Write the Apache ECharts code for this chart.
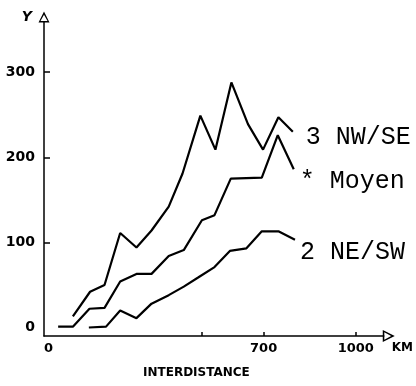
<!DOCTYPE html>
<html><head><meta charset="utf-8">
<script src="https://cdn.jsdelivr.net/npm/echarts@6/dist/echarts.min.js"></script>
<style>html,body{margin:0;padding:0;background:#fff}#c{width:416px;height:386px}</style>
</head><body><div id="c"></div>
<script>
const seriesNames = ['3 NW/SE', '* Moyen', '2 NE/SW'];
const nwseKm  = [79, 135, 182, 233, 286, 335, 391, 436, 494, 543, 595, 649, 698, 748, 795];
const nwseVal = [13, 42, 50, 111, 94, 114, 142, 181, 249, 209, 288, 239, 209, 247, 230];
const moyenKm  = [31, 79, 133, 182, 233, 286, 335, 391, 440, 499, 540, 593, 694, 746, 798];
const moyenVal = [1, 1, 22, 23, 54, 63, 63, 84, 91, 126, 132, 175, 176, 226, 186];
const neswKm  = [131, 187, 233, 286, 335, 391, 440, 488, 540, 590, 644, 694, 748, 802];
const neswVal = [0, 1, 20, 11, 28, 38, 48, 59, 71, 90, 93, 113, 113, 103];
const xLabelValues = [0, 700, 1000];
const xTickValues = [500, 700, 1000];
const yLabelValues = [0, 100, 200, 300];
const yTickValues = [100, 200, 300];
const xName = 'KM', yName = 'Y', xTitle = 'INTERDISTANCE';

const pair = (xs, ys) => xs.map((x, i) => [x, ys[i]]);
const arrow = 'path://M5,0L10,10L0,10Z M5,3L1.8,8.7L8.2,8.7Z';
const labelFont = { fontFamily: 'DejaVu Sans', fontWeight: 'bold', fontSize: 13, color: '#000' };
const endFont = { fontFamily: 'Liberation Mono', fontSize: 25, color: '#000' };

const chart = echarts.init(document.getElementById('c'), null, { renderer: 'canvas' });
const mk = (name, data, off) => ({
  type: 'line', name, data, symbol: 'none', silent: true,
  lineStyle: { color: '#000', width: 2.2 },
  endLabel: Object.assign({ show: true, formatter: name, distance: 0, offset: off }, endFont)
});
chart.setOption({
  animation: false,
  backgroundColor: '#fff',
  title: { text: xTitle, left: 138, top: 362, textStyle: { fontFamily: 'DejaVu Sans', fontWeight: 'bold', fontSize: 12, color: '#000' } },
  grid: { left: 44, right: 29, top: 22, bottom: 50, containLabel: false },
  xAxis: {
    type: 'value', min: -15, max: 1091,
    name: xName, nameLocation: 'end', nameGap: 8,
    nameTextStyle: Object.assign({ align: 'left', verticalAlign: 'top', padding: [6, 0, 0, 0] }, labelFont, { fontSize: 12 }),
    axisLine: { show: true, onZero: false, lineStyle: { color: '#000', width: 1.5 }, symbol: ['none', arrow], symbolSize: [12, 12], symbolOffset: [0, 5] },
    axisTick: { show: true, inside: true, length: 4, customValues: xTickValues, lineStyle: { color: '#000', width: 1.5 } },
    axisLabel: Object.assign({ customValues: xLabelValues, margin: 6, formatter: v => String(v) }, labelFont),
    splitLine: { show: false }
  },
  yAxis: {
    type: 'value', min: -10, max: 359,
    name: yName, nameLocation: 'end', nameGap: 5,
    nameTextStyle: Object.assign({ align: 'right', verticalAlign: 'middle', padding: [0, 12, 0, 0], fontStyle: 'italic' }, labelFont, { fontSize: 14 }),
    axisLine: { show: true, onZero: false, lineStyle: { color: '#000', width: 1.5 }, symbol: ['none', arrow], symbolSize: [11, 11], symbolOffset: [0, 5] },
    axisTick: { show: true, inside: true, length: 6, customValues: yTickValues, lineStyle: { color: '#000', width: 1.5 } },
    axisLabel: Object.assign({ customValues: yLabelValues, margin: 9, formatter: v => String(v) }, labelFont, { fontSize: 14 }),
    splitLine: { show: false }
  },
  series: [
    mk(seriesNames[0], pair(nwseKm, nwseVal), [13, 6]),
    mk(seriesNames[1], pair(moyenKm, moyenVal), [6, 12]),
    mk(seriesNames[2], pair(neswKm, neswVal), [5, 13])
  ]
});
</script></body></html>
